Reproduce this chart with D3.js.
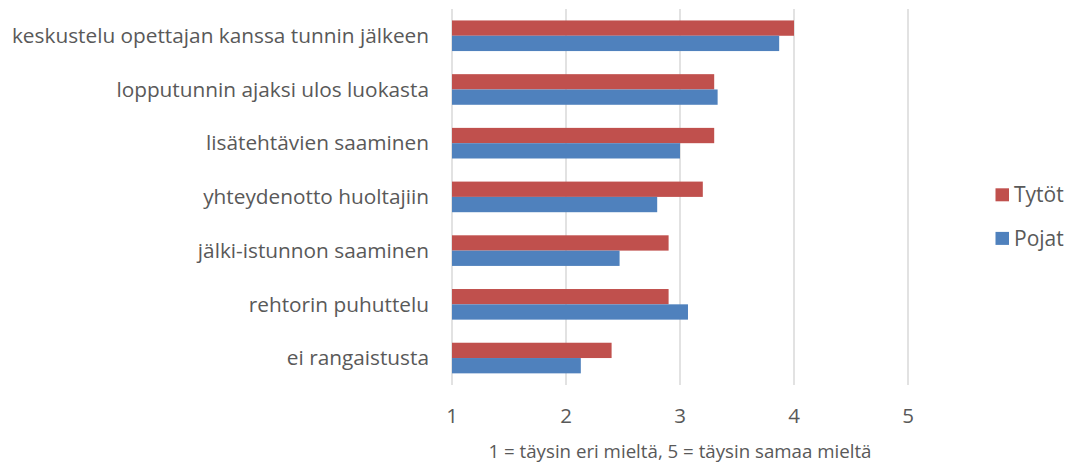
<!DOCTYPE html>
<html><head><meta charset="utf-8">
<script src="https://cdn.jsdelivr.net/npm/d3@7"></script>
<style>body{margin:0;background:#fff}svg{display:block}text{font-family:"Open Sans",sans-serif;fill:#595959}</style>
</head><body><div id="c"></div>
<script>
const categories = ["keskustelu opettajan kanssa tunnin jälkeen","lopputunnin ajaksi ulos luokasta","lisätehtävien saaminen","yhteydenotto huoltajiin","jälki-istunnon saaminen","rehtorin puhuttelu","ei rangaistusta"];
const seriesNames = ["Tytöt","Pojat"];
const tytot = [4.0,3.30,3.30,3.20,2.90,2.90,2.40];
const pojat = [3.87,3.33,3.0,2.80,2.47,3.07,2.13];
const ticks = [1,2,3,4,5];
const axisTitle = "1 = täysin eri mieltä, 5 = täysin samaa mieltä";
const colors = ["#C0504D","#4F81BD"];

const W=1072,H=464;
const svg=d3.select("#c").append("svg").attr("width",W).attr("height",H);
const x=d3.scaleLinear().domain([1,5]).range([452,908]);
const y=d3.scaleBand().domain(categories).range([8.9,384.9]).paddingInner(0.43).paddingOuter(0.215);
const ys=d3.scaleBand().domain(seriesNames).range([0,y.bandwidth()]);

svg.append("g").selectAll("line").data(ticks).join("line")
 .attr("x1",d=>x(d)).attr("x2",d=>x(d)).attr("y1",8.9).attr("y2",384.9)
 .attr("stroke","#d9d9d9").attr("stroke-width",1.5);

const data=categories.map((c,i)=>({c,vals:[tytot[i],pojat[i]]}));
const g=svg.append("g").selectAll("g").data(data).join("g").attr("transform",d=>`translate(0,${y(d.c)})`);
g.selectAll("rect").data(d=>d.vals.map((v,j)=>({v,s:seriesNames[j],j}))).join("rect")
 .attr("x",x(1)).attr("y",d=>ys(d.s)).attr("height",ys.bandwidth())
 .attr("width",d=>x(d.v)-x(1)).attr("fill",d=>colors[d.j]);

svg.append("g").selectAll("text").data(categories).join("text")
 .attr("x",429).attr("y",d=>y(d)+y.bandwidth()/2).attr("dy","0.35em")
 .attr("text-anchor","end").style("font-size","20.8px").text(d=>d);

svg.append("g").selectAll("text").data(ticks).join("text")
 .attr("x",d=>x(d)).attr("y",416).attr("dy","0.35em").attr("text-anchor","middle")
 .style("font-size","20.5px").text(d=>d);

svg.append("text").attr("x",680).attr("y",451).attr("dy","0.35em").attr("text-anchor","middle")
 .style("font-size","18.7px").text(axisTitle);

const lg=svg.append("g").selectAll("g").data(seriesNames).join("g")
 .attr("transform",(d,i)=>`translate(995.5,${188.3+i*43.6})`);
lg.append("rect").attr("width",13.5).attr("height",13).attr("fill",(d,i)=>colors[i]);
lg.append("text").attr("x",18.5).attr("y",6.5).attr("dy","0.35em").style("font-size","21px").text(d=>d);
</script></body></html>
